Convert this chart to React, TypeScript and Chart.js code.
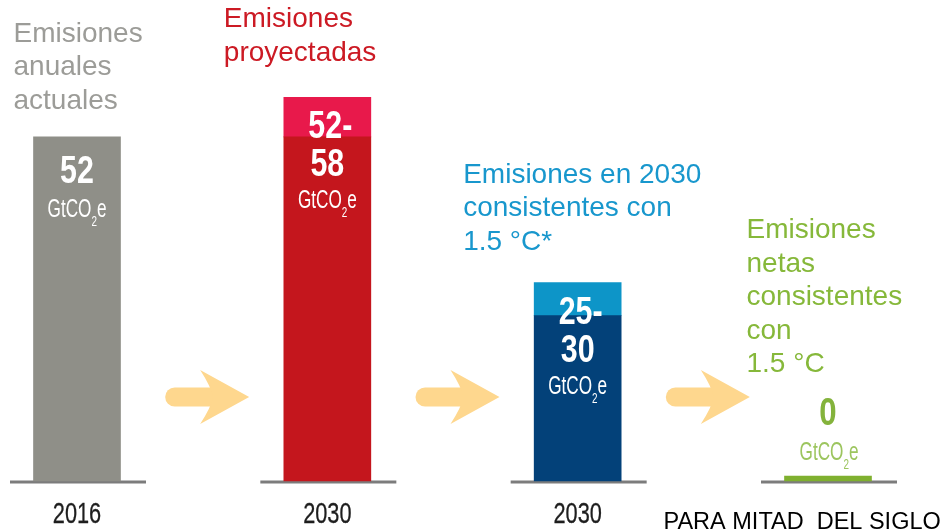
import React, { useEffect, useRef } from "react";
import { Chart, registerables } from "chart.js";

Chart.register(...registerables);

const categories = ["2016", "2030", "2030", "PARA MITAD  DEL SIGLO"];
const lowValues = [52, 52, 25, 0];
const highValues: (number | null)[] = [null, 58, 30, null];
const lowColors = ["#8f8f88", "#c4161d", "#034179", "#7fb02f"];
const highColors = ["#8f8f88", "#e8194b", "#0d95c8", "#7fb02f"];
const valueLabels = [["52"], ["52-", "58"], ["25-", "30"], ["0"]];
const unitLabel = "GtCO";
const annotations = [
  ["Emisiones", "anuales", "actuales"],
  ["Emisiones", "proyectadas"],
  ["Emisiones en 2030", "consistentes con", "1.5 °C*"],
  ["Emisiones", "netas", "consistentes", "con", "1.5 °C"],
];
const annotationColors = ["#9c9c98", "#cc1a24", "#1897cd", "#86b83a"];

const SANS = '"Liberation Sans", Arial, sans-serif';

function condText(
  ctx: CanvasRenderingContext2D,
  text: string,
  x: number,
  y: number,
  font: string,
  sx: number,
  align: "left" | "center",
  strokeW = 0
) {
  ctx.save();
  ctx.font = font;
  const w = ctx.measureText(text).width * sx;
  const left = align === "center" ? x - w / 2 : x;
  ctx.translate(left, y);
  ctx.scale(sx, 1);
  ctx.textAlign = "left";
  ctx.textBaseline = "alphabetic";
  ctx.fillText(text, 0, 0);
  if (strokeW > 0) {
    ctx.strokeStyle = ctx.fillStyle as string;
    ctx.lineWidth = strokeW;
    ctx.strokeText(text, 0, 0);
  }
  ctx.restore();
}

function drawUnit(ctx: CanvasRenderingContext2D, cx: number, y: number, color: string) {
  const sx = 0.66;
  const big = `26px ${SANS}`;
  const small = `15px ${SANS}`;
  ctx.save();
  ctx.fillStyle = color;
  ctx.font = big;
  const w1 = ctx.measureText(unitLabel).width * sx;
  const w3 = ctx.measureText("e").width * sx;
  ctx.font = small;
  const w2 = ctx.measureText("2").width * sx;
  const total = w1 + w2 + w3;
  let x = cx - total / 2;
  condText(ctx, unitLabel, x, y, big, sx, "left");
  x += w1;
  condText(ctx, "2", x, y + 9, small, sx, "left");
  x += w2;
  condText(ctx, "e", x, y, big, sx, "left");
  ctx.restore();
}

function drawArrow(ctx: CanvasRenderingContext2D, x0: number, tip: number, cy: number) {
  ctx.save();
  ctx.fillStyle = "#fed78e";
  const sh = 9.5;
  ctx.beginPath();
  ctx.moveTo(x0 + sh, cy - sh);
  ctx.lineTo(tip - 30, cy - sh);
  ctx.lineTo(tip - 30, cy + sh);
  ctx.lineTo(x0 + sh, cy + sh);
  ctx.arc(x0 + sh, cy, sh, Math.PI / 2, (Math.PI * 3) / 2);
  ctx.closePath();
  ctx.fill();
  ctx.beginPath();
  ctx.moveTo(tip, cy);
  ctx.lineTo(tip - 49, cy - 27);
  ctx.quadraticCurveTo(tip - 38, cy - 10, tip - 36, cy);
  ctx.quadraticCurveTo(tip - 38, cy + 10, tip - 49, cy + 27);
  ctx.closePath();
  ctx.fill();
  ctx.restore();
}

const decorPlugin = {
  id: "decor",
  beforeDatasetsDraw(chart: any) {
    const ctx = chart.ctx as CanvasRenderingContext2D;
    const xs = chart.scales.x;
    const base = chart.scales.y.getPixelForValue(0);
    ctx.save();
    ctx.fillStyle = "#7c7c7c";
    categories.forEach((_, i) => {
      const cx = xs.getPixelForValue(i);
      ctx.fillRect(cx - 67, base - 0.5, 136, 3);
    });
    ctx.restore();
    for (let i = 0; i < categories.length - 1; i++) {
      const a = xs.getPixelForValue(i);
      const b = xs.getPixelForValue(i + 1);
      const mid = (a + b) / 2 + 5;
      drawArrow(ctx, mid - 42, mid + 42, 397);
    }
  },
  afterDatasetsDraw(chart: any) {
    const ctx = chart.ctx as CanvasRenderingContext2D;
    const m0 = chart.getDatasetMeta(0);
    const m1 = chart.getDatasetMeta(1);
    const xs = chart.scales.x;
    ctx.save();
    categories.forEach((_, i) => {
      const el0 = m0.data[i];
      const cx = el0.x;
      const top = highValues[i] != null ? m1.data[i].y : el0.y;
      const left = cx - 43.5;
      const labels = valueLabels[i];
      if (i === 0) {
        ctx.fillStyle = "#ffffff";
        condText(ctx, labels[0], cx, top + 46, `bold 38px ${SANS}`, 0.8, "center");
        drawUnit(ctx, cx, top + 80, "#ffffff");
      } else if (i === 1 || i === 2) {
        ctx.fillStyle = "#ffffff";
        condText(ctx, labels[0], cx + 3, top + 41, `bold 38px ${SANS}`, 0.8, "center");
        condText(ctx, labels[1], cx, top + 79, `bold 38px ${SANS}`, 0.8, "center");
        drawUnit(ctx, cx, top + 111, "#ffffff");
      } else {
        ctx.fillStyle = "#84b33c";
        condText(ctx, labels[0], cx, 425, `bold 38px ${SANS}`, 0.82, "center");
        drawUnit(ctx, cx + 1, 460, "#9cc55e");
      }
      // annotations
      const lines = annotations[i];
      ctx.fillStyle = annotationColors[i];
      ctx.font = `28px ${SANS}`;
      ctx.textAlign = "left";
      ctx.textBaseline = "alphabetic";
      let ax = 0;
      let ay = 0;
      if (i === 0) {
        ax = left - 20;
        ay = top - 95;
      } else if (i === 1) {
        ax = left - 60;
        ay = top - 70;
      } else if (i === 2) {
        ax = left - 71;
        ay = top - 100;
      } else {
        ax = left - 38;
        ay = el0.base - 243;
      }
      lines.forEach((t, k) => {
        ctx.fillText(t, ax, ay + k * 33.5);
      });
      // category labels
      if (i < 3) {
        ctx.fillStyle = "#1e1e1e";
        condText(ctx, categories[i], xs.getPixelForValue(i), 523, `29px ${SANS}`, 0.75, "center", 0.3);
      } else {
        ctx.fillStyle = "#000000";
        ctx.font = `23.5px ${SANS}`;
        ctx.textAlign = "left";
        ctx.fillText(categories[i], left - 121, 529);
      }
    });
    ctx.restore();
  },
};

export default function App() {
  const ref = useRef<HTMLCanvasElement | null>(null);
  useEffect(() => {
    if (!ref.current) return;
    const extra = highValues.map((h, i) => (h == null ? null : h - lowValues[i]));
    const chart = new Chart(ref.current, {
      type: "bar",
      data: {
        labels: categories,
        datasets: [
          {
            data: lowValues,
            backgroundColor: lowColors,
            borderWidth: 0,
            barThickness: 87,
            minBarLength: 5,
            clip: false as any,
          },
          {
            data: extra as any,
            backgroundColor: highColors,
            borderWidth: 0,
            barThickness: 87,
            clip: false as any,
          },
        ],
      },
      options: {
        responsive: false,
        animation: false,
        events: [],
        layout: { padding: { left: 77, right: 123, top: 84, bottom: 51 } },
        plugins: { legend: { display: false }, tooltip: { enabled: false } },
        scales: {
          x: { display: false, offset: false, stacked: true, grid: { offset: false } },
          y: { display: false, stacked: true, min: 0, max: 60 },
        },
      },
      plugins: [decorPlugin],
    });
    return () => chart.destroy();
  }, []);
  return (
    <div style={{ position: "absolute", left: 0, top: 0, width: 951, height: 532, background: "#ffffff" }}>
      <canvas ref={ref} width={951} height={532} style={{ display: "block" }} />
    </div>
  );
}
